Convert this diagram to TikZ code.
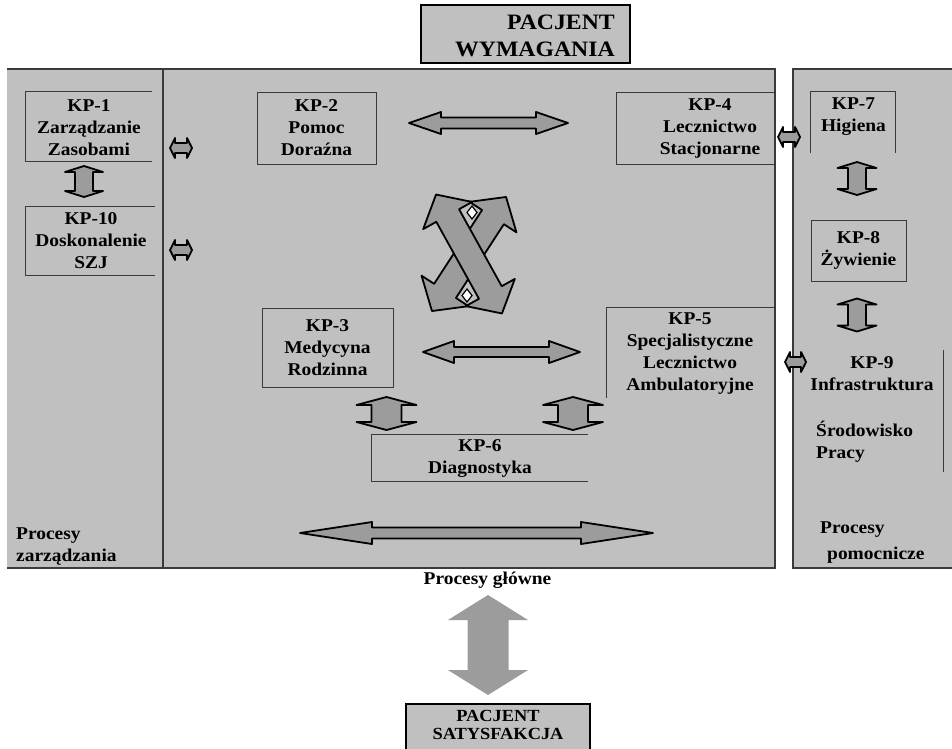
\documentclass[tikz,border=0pt]{standalone}
\usepackage{fontspec}
\setmainfont{Liberation Serif}[FakeStretch=1.08]
\definecolor{panelgray}{HTML}{C0C0C0}
\definecolor{arrowgray}{HTML}{9C9C9C}
\definecolor{linegray}{HTML}{3A3A3A}
% horizontal double block arrow: [style]{cx}{cy}{half length}{head length}{head half-height}{shaft half-height}
\newcommand\HArr[7][arr]{\draw[#1] ({#2-#4},#3) -- ({#2-#4+#5},{#3-#6}) -- ({#2-#4+#5},{#3-#7}) -- ({#2+#4-#5},{#3-#7}) -- ({#2+#4-#5},{#3-#6}) -- ({#2+#4},#3) -- ({#2+#4-#5},{#3+#6}) -- ({#2+#4-#5},{#3+#7}) -- ({#2-#4+#5},{#3+#7}) -- ({#2-#4+#5},{#3+#6}) -- cycle;}
% vertical double block arrow
\newcommand\VArr[7][arr]{\draw[#1] (#2,{#3-#4}) -- ({#2+#6},{#3-#4+#5}) -- ({#2+#7},{#3-#4+#5}) -- ({#2+#7},{#3+#4-#5}) -- ({#2+#6},{#3+#4-#5}) -- (#2,{#3+#4}) -- ({#2-#6},{#3+#4-#5}) -- ({#2-#7},{#3+#4-#5}) -- ({#2-#7},{#3-#4+#5}) -- ({#2-#6},{#3-#4+#5}) -- cycle;}
\begin{document}
\begin{tikzpicture}[x=1pt,y=-1pt,
  arr/.style={fill=arrowgray,draw=black,line width=1.8pt,line join=round},
  bigarr/.style={fill=arrowgray,draw=none},
  hole/.style={fill=white,draw=black,line width=1.2pt},
  pline/.style={draw=linegray,line width=1.3pt},
  bline/.style={draw=linegray,line width=0.9pt},
  lbl/.style={font=\bfseries\fontsize{18}{22}\selectfont,align=center,inner sep=0pt},
  frame/.style={inner sep=0pt,draw=none},
  kpbox/.style={lbl,draw=linegray,line width=0.9pt},
  bigbox/.style={fill=panelgray,draw=black,inner sep=0pt}]
\useasboundingbox (0,0) rectangle (952,748);
\clip (0,0) rectangle (952,748);
\fill[white] (0,0) rectangle (952,748);

% panels
\fill[panelgray] (7,69) rectangle (163,568);
\fill[panelgray] (163,69) rectangle (775,568);
\fill[panelgray] (793,69) rectangle (952,568);
\draw[pline] (7,69) -- (775,69) -- (775,568) -- (7,568);
\draw[pline] (163,69) -- (163,568);
\draw[pline] (952,69) -- (793,69) -- (793,568) -- (952,568);

% top box
\node[bigbox,line width=1.8pt,minimum width=209pt,minimum height=58pt] (req) at (525.5,34) {};
\node[lbl,font=\bfseries\fontsize{22}{27}\selectfont,align=right,anchor=east] (reqt) at (615,36) {PACJENT\\WYMAGANIA};

% left panel
\node[frame,minimum width=126pt,minimum height=69pt] (kp1) at (89,126.5) {};
\node[lbl] (kp1t) at (89,128) {KP-1\\Zarządzanie\\Zasobami};
\draw[bline] (kp1.north east) -- (kp1.north west) -- (kp1.south west) -- (kp1.south east);
\VArr{84}{181.5}{15.5}{6}{19}{9}
\node[frame,minimum width=129pt,minimum height=68pt] (kp10) at (90.5,241) {};
\node[lbl] (kp10t) at (91,241) {KP-10\\Doskonalenie\\SZJ};
\draw[bline] (kp10.north east) -- (kp10.north west) -- (kp10.south west) -- (kp10.south east);
\HArr{181}{148}{11}{5}{10}{5}
\HArr{181}{250}{11}{5}{10}{5}
\node[lbl,align=left,anchor=west] (mgmt) at (16,546) {Procesy\\zarządzania};

% middle panel
\node[kpbox,minimum width=119pt,minimum height=72pt] (kp2) at (316.5,128) {KP-2\\Pomoc\\Doraźna};
\HArr{488.5}{123}{79.5}{32}{11}{5.5}
\draw[bline] (616,92) rectangle (775,164);
\node[lbl] (kp4t) at (710,128) {KP-4\\Lecznictwo\\Stacjonarne};

% crossing arrows
\begin{scope}[shift={(469,254)},rotate=57]
  \HArr{0}{0}{68}{24}{28}{13}
\end{scope}
\begin{scope}[shift={(469,254)},rotate=-61]
  \HArr{0}{0}{68}{24}{28}{13}
\end{scope}
\draw[hole] (472,206) -- (477,212.5) -- (472,219) -- (467,212.5) -- cycle;
\draw[hole] (467,289) -- (472,295.5) -- (467,302) -- (462,295.5) -- cycle;

\node[kpbox,minimum width=131pt,minimum height=79pt] (kp3) at (327.5,347.5) {KP-3\\Medycyna\\Rodzinna};
\HArr{501.5}{352}{78.5}{31}{11}{5}
\node[frame,minimum width=168pt,minimum height=90pt] (kp5) at (691,353) {};
\node[lbl] (kp5t) at (690,354) {KP-5\\Specjalistyczne\\Lecznictwo\\Ambulatoryjne};
\draw[bline] (kp5.north east) -- (kp5.north west) -- (kp5.south west);
\VArr{386.5}{413.5}{16.5}{8}{30}{15}
\VArr{573}{413.5}{16.5}{8}{30}{15}
\node[frame,minimum width=216pt,minimum height=46pt] (kp6) at (480,458) {};
\node[lbl] (kp6t) at (480,458.5) {KP-6\\Diagnostyka};
\draw[bline] (kp6.north east) -- (kp6.north west) -- (kp6.south west) -- (kp6.south east);
\HArr{476.5}{533}{176.5}{72}{11}{5.5}

% right panel
\HArr{789}{137}{11}{5}{10}{5}
\node[frame,minimum width=84pt,minimum height=61pt] (kp7) at (853,122.5) {};
\node[lbl] (kp7t) at (853.5,116.5) {KP-7\\Higiena};
\draw[bline] (kp7.south west) -- (kp7.north west) -- (kp7.north east) -- (kp7.south east);
\VArr{857}{178.5}{16.5}{6}{19.5}{9}
\node[kpbox,minimum width=95pt,minimum height=61pt] (kp8) at (858.5,250.5) {KP-8\\Żywienie};
\VArr{857}{315}{16.5}{6}{19.5}{9}
\HArr{795.5}{362}{10.5}{5}{10}{5}
\node[lbl] (kp9) at (872,373.5) {KP-9\\Infrastruktura};
\node[lbl,align=left,anchor=west] (kp9b) at (816,441.5) {Środowisko\\Pracy};
\coordinate (kp9top) at (943,350);
\coordinate (kp9bot) at (943,472);
\draw[bline] (kp9top) -- (kp9bot);
\node[lbl,anchor=west] (aux1) at (820,530) {Procesy};
\node[lbl,anchor=west] (aux2) at (827,555) {pomocnicze};

% bottom
\node[lbl] (main) at (487.5,580) {Procesy główne};
\VArr[bigarr]{488}{645}{50}{25}{40}{20.5}
\node[bigbox,line width=1.2pt,minimum width=184pt,minimum height=52pt] (sat) at (498,730) {};
\node[lbl,font=\bfseries\fontsize{17}{18.5}\selectfont] (satt) at (498,725) {PACJENT\\SATYSFAKCJA};
\end{tikzpicture}
\end{document}
